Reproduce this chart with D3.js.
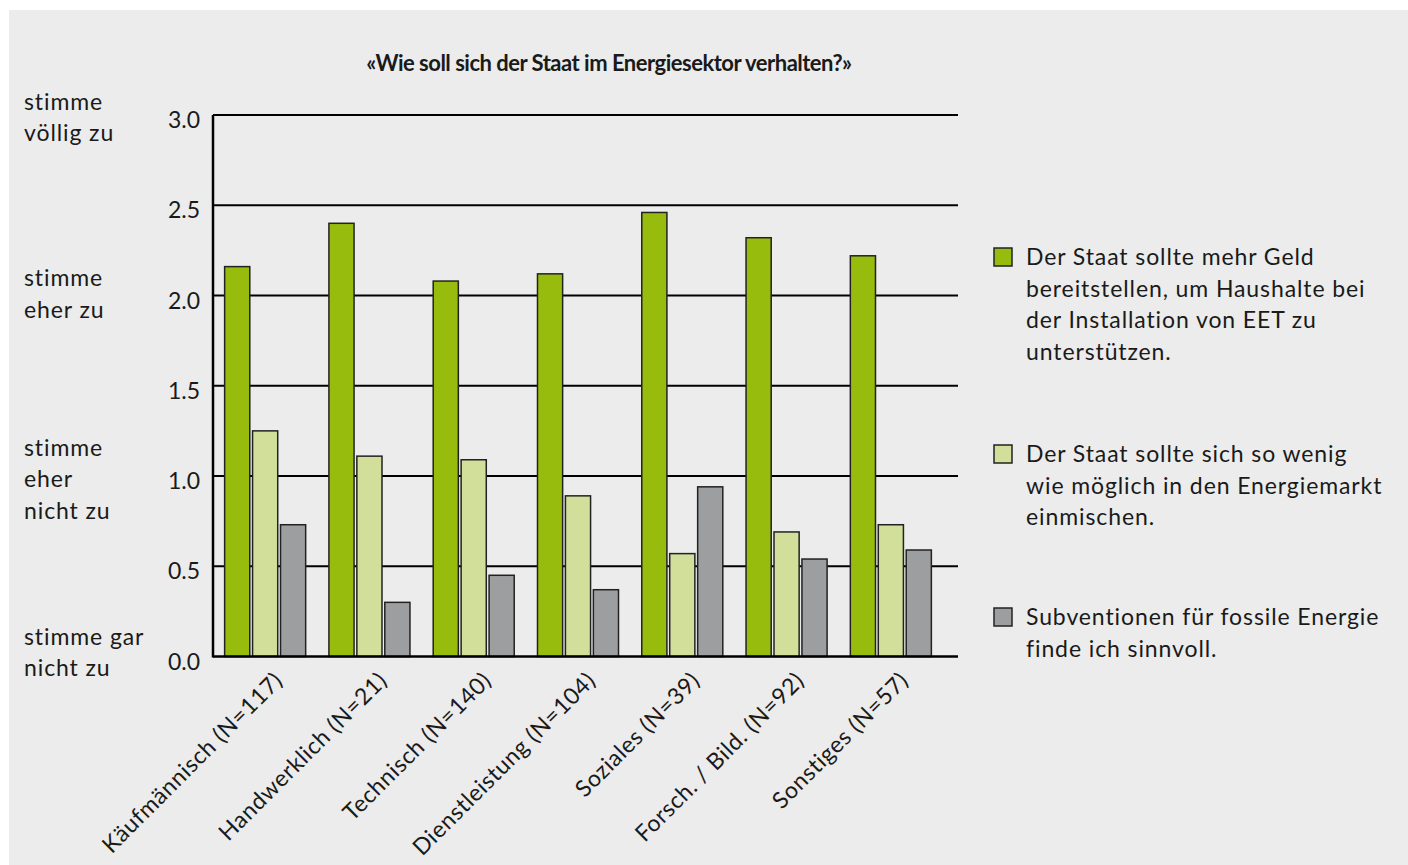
<!DOCTYPE html>
<html>
<head>
<meta charset="utf-8">
<script src="https://cdn.jsdelivr.net/npm/d3@7"></script>
<style>
  body { margin: 0; background: #fff; }
  text { font-family: Lato, "Open Sans", sans-serif; fill: #1a1a1a; }
</style>
</head>
<body>
<div id="chart"></div>
<script>
var categories = ["Käufmännisch (N=117)", "Handwerklich (N=21)", "Technisch (N=140)",
  "Dienstleistung (N=104)", "Soziales (N=39)", "Forsch. / Bild. (N=92)", "Sonstiges (N=57)"];
var seriesNames = ["geld", "wenig", "fossil"];
var geldValues = [2.16, 2.40, 2.08, 2.12, 2.46, 2.32, 2.22];
var wenigValues = [1.25, 1.11, 1.09, 0.89, 0.57, 0.69, 0.73];
var fossilValues = [0.73, 0.30, 0.45, 0.37, 0.94, 0.54, 0.59];
var yTicks = [0, 0.5, 1.0, 1.5, 2.0, 2.5, 3.0];
var scaleLabels = [["stimme", "völlig zu"], ["stimme", "eher zu"], ["stimme", "eher", "nicht zu"], ["stimme gar", "nicht zu"]];
var scaleAnchors = [3.03, 2.05, 1.11, 0.065];
var legendLabels = [
  ["Der Staat sollte mehr Geld", "bereitstellen, um Haushalte bei", "der Installation von EET zu", "unterstützen."],
  ["Der Staat sollte sich so wenig", "wie möglich in den Energiemarkt", "einmischen."],
  ["Subventionen für fossile Energie", "finde ich sinnvoll."]
];
var title = "«Wie soll sich der Staat im Energiesektor verhalten?»";

var width = 1408, height = 865;
var colors = ["#97bc0d", "#d1df9b", "#9d9e9f"];
var allValues = [geldValues, wenigValues, fossilValues];

var svg = d3.select("#chart").append("svg")
  .attr("width", width).attr("height", height);

svg.append("rect").attr("x", 9).attr("y", 10)
  .attr("width", width - 9).attr("height", height - 10)
  .attr("fill", "#ebeceb");

var y = d3.scaleLinear().domain([0, 3]).range([656.5, 115]);
var x0 = d3.scaleBand().domain(categories).range([213, 943])
  .paddingInner(0.223).paddingOuter(0.1115);
var x1 = d3.scaleBand().domain(seriesNames).range([0, x0.bandwidth()])
  .paddingInner(0.1);

// gridlines
svg.append("g").selectAll("line").data(yTicks.slice(1)).enter().append("line")
  .attr("x1", 213).attr("x2", 958)
  .attr("y1", function(d) { return y(d); }).attr("y2", function(d) { return y(d); })
  .attr("stroke", "#000").attr("stroke-width", 2);

// bars
var groups = svg.append("g").selectAll("g").data(categories).enter().append("g")
  .attr("transform", function(d) { return "translate(" + x0(d) + ",0)"; });

groups.selectAll("rect")
  .data(function(d, i) {
    return seriesNames.map(function(s, j) { return { s: s, v: allValues[j][i], c: colors[j] }; });
  })
  .enter().append("rect")
  .attr("x", function(d) { return x1(d.s); })
  .attr("width", x1.bandwidth())
  .attr("y", function(d) { return y(d.v); })
  .attr("height", function(d) { return y(0) - y(d.v); })
  .attr("fill", function(d) { return d.c; })
  .attr("stroke", "#222").attr("stroke-width", 1.5);

// axes lines
svg.append("line").attr("x1", 213).attr("x2", 958)
  .attr("y1", y(0)).attr("y2", y(0)).attr("stroke", "#000").attr("stroke-width", 2.5);
svg.append("line").attr("x1", 213).attr("x2", 213)
  .attr("y1", y(3)).attr("y2", y(0) + 1).attr("stroke", "#000").attr("stroke-width", 2.5);

// y tick labels
svg.append("g").selectAll("text").data(yTicks).enter().append("text")
  .attr("x", 200).attr("y", function(d) { return y(d) + 13; })
  .attr("text-anchor", "end")
  .style("font-size", "23px")
  .text(function(d) { return d.toFixed(1); });

// agreement labels
scaleLabels.forEach(function(lines, i) {
  var t = svg.append("text").attr("x", 24)
    .attr("y", y(scaleAnchors[i]))
    .style("font-size", "23px").style("letter-spacing", "0.9px");
  lines.forEach(function(l, k) {
    t.append("tspan").attr("x", 24).attr("dy", k === 0 ? 0 : 31.3).text(l);
  });
});

// x labels
svg.append("g").selectAll("text").data(categories).enter().append("text")
  .attr("transform", function(d) {
    return "translate(" + (x0(d) + x0.bandwidth() / 2 + 19) + "," + 682 + ") rotate(-45)";
  })
  .attr("text-anchor", "end")
  .style("font-size", "23px").style("letter-spacing", "0.6px")
  .text(function(d) { return d; });

// title
svg.append("text").attr("x", 609).attr("y", 71)
  .attr("text-anchor", "middle")
  .style("font-size", "22px").style("font-weight", "bold").style("letter-spacing", "-0.5px")
  .text(title);

// legend
var legendTops = [248, 445, 608];
legendLabels.forEach(function(lines, i) {
  svg.append("rect").attr("x", 994).attr("y", legendTops[i])
    .attr("width", 18).attr("height", 18)
    .attr("fill", colors[i]).attr("stroke", "#222").attr("stroke-width", 1.5);
  var t = svg.append("text").attr("x", 1026).attr("y", legendTops[i] + 17)
    .style("font-size", "23px").style("letter-spacing", "0.9px");
  lines.forEach(function(l, k) {
    t.append("tspan").attr("x", 1026).attr("dy", k === 0 ? 0 : 31.7).text(l);
  });
});
</script>
</body>
</html>
